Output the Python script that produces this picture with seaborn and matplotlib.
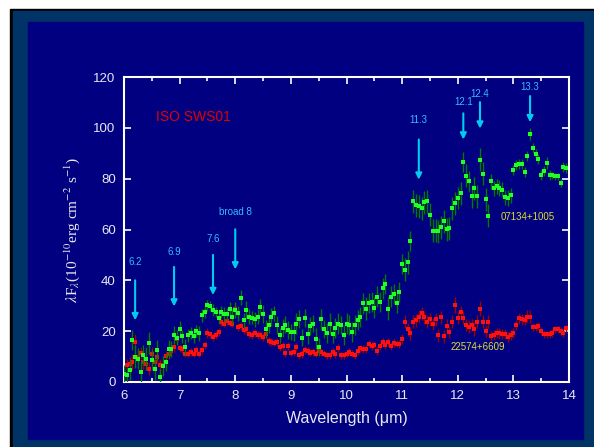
import matplotlib
matplotlib.use("Agg")
import matplotlib.pyplot as plt
import matplotlib.patches as mpatches
import seaborn as sns
import pandas as pd

# ISO SWS01 spectra of two sources
green_wl = [6.00, 6.05, 6.10, 6.15, 6.20, 6.25, 6.30, 6.35, 6.40, 6.45, 6.50, 6.55, 6.60, 6.65, 6.70, 6.75,
            6.80, 6.85, 6.90, 6.95, 7.00, 7.05, 7.10, 7.15, 7.20, 7.25, 7.30, 7.35, 7.40, 7.45, 7.50, 7.55,
            7.60, 7.65, 7.70, 7.75, 7.80, 7.85, 7.90, 7.95, 8.00, 8.05, 8.10, 8.15, 8.20, 8.25, 8.30, 8.35,
            8.40, 8.45, 8.50, 8.55, 8.60, 8.65, 8.70, 8.75, 8.80, 8.85, 8.90, 8.95, 9.00, 9.05, 9.10, 9.15,
            9.20, 9.25, 9.30, 9.35, 9.40, 9.45, 9.50, 9.55, 9.60, 9.65, 9.70, 9.75, 9.80, 9.85, 9.90, 9.95,
            10.00, 10.05, 10.10, 10.15, 10.20, 10.25, 10.30, 10.35, 10.40, 10.45, 10.50, 10.55, 10.60, 10.65,
            10.70, 10.75, 10.80, 10.85, 10.90, 10.95, 11.00, 11.05, 11.10, 11.15, 11.20, 11.25, 11.30, 11.35,
            11.40, 11.45, 11.50, 11.55, 11.60, 11.65, 11.70, 11.75, 11.80, 11.85, 11.90, 11.95, 12.00, 12.05,
            12.10, 12.15, 12.20, 12.25, 12.30, 12.35, 12.40, 12.45, 12.50, 12.55, 12.60, 12.65, 12.70, 12.75,
            12.80, 12.85, 12.90, 12.95, 13.00, 13.05, 13.10, 13.15, 13.20, 13.25, 13.30, 13.35, 13.40, 13.45,
            13.50, 13.55, 13.60, 13.65, 13.70, 13.75, 13.80, 13.85, 13.90, 13.95]
green_flux = [3.0, 2.6, 4.6, 16.4, 9.9, 9.2, 3.9, 10.5, 9.2, 15.5, 8.6, 5.3, 12.5, 2.0, 6.3, 7.9,
              13.0, 13.0, 18.4, 17.4, 20.9, 18.0, 13.8, 18.3, 19.3, 18.2, 20.1, 19.1, 26.3, 27.5, 30.1, 29.9,
              28.3, 27.6, 25.3, 27.5, 26.6, 26.7, 28.8, 25.7, 28.3, 27.0, 33.2, 24.3, 28.3, 25.7, 25.3, 24.6,
              25.7, 29.6, 26.7, 20.7, 22.4, 25.5, 27.0, 22.4, 18.3, 21.3, 22.6, 20.4, 19.7, 19.7, 23.0, 24.7,
              17.5, 25.3, 18.8, 22.1, 23.0, 17.1, 13.8, 24.6, 21.0, 19.3, 23.0, 18.7, 21.3, 23.0, 22.4, 18.4,
              23.0, 22.4, 19.7, 22.4, 24.3, 25.7, 30.9, 28.9, 31.2, 31.6, 29.3, 33.6, 31.6, 36.8,
              38.6, 28.9, 33.6, 34.6, 31.2, 35.5, 46.4, 44.1, 47.1, 55.5, 71.1, 69.6, 69.1, 68.4,
              70.7, 71.1, 65.8, 59.6, 59.6, 59.3, 60.9, 63.2, 60.1, 60.5, 68.4, 70.4, 72.4, 74.3,
              86.6, 81.2, 78.9, 73.0, 76.3, 73.0, 87.5, 82.0, 71.9, 65.4, 78.9, 76.2, 77.0, 76.3,
              75.7, 72.6, 72.4, 73.4, 83.3, 85.4, 85.8, 85.9, 82.6, 88.8, 97.6, 92.1, 89.7, 87.7,
              81.6, 82.9, 86.2, 81.6, 81.3, 80.9, 80.9, 78.3, 84.5, 84.2]
green_err = [3.5, 3.0, 4.0, 4.0, 4.5, 4.0, 4.5, 4.0, 4.5, 4.3, 4.0, 4.5, 4.0, 3.0, 4.0, 3.5,
             3.5, 3.0, 3.5, 3.0, 3.0, 2.5, 3.0, 2.5, 2.5, 3.0, 2.5, 3.0, 2.5, 2.5, 2.0, 2.0,
             2.5, 2.0, 2.5, 2.5, 3.0, 2.5, 2.5, 3.0, 3.0, 3.0, 3.0, 3.0, 3.5, 3.0, 2.5, 3.0,
             3.0, 3.0, 3.5, 3.5, 3.0, 3.5, 3.0, 3.5, 3.0, 3.5, 3.5, 3.5, 3.0, 3.5, 4.0, 3.5,
             3.5, 3.5, 4.0, 3.5, 3.5, 4.0, 3.5, 4.0, 3.5, 4.0, 4.0, 3.5, 4.0, 4.0, 3.5, 4.0,
             4.0, 4.0, 4.0, 4.0, 4.0, 4.0, 4.0, 4.5, 4.0, 4.0, 4.0, 4.0, 4.0, 4.0,
             4.0, 4.5, 4.0, 4.0, 4.0, 4.0, 4.0, 4.5, 4.5, 4.0, 4.5, 4.5, 4.5, 4.5,
             4.5, 4.5, 4.5, 4.5, 4.5, 4.5, 4.5, 4.5, 4.5, 4.5, 4.5, 4.5, 4.5, 4.5,
             4.0, 4.5, 4.0, 4.5, 4.5, 4.5, 4.6, 4.5, 4.5, 4.5, 3.0, 3.0, 3.0, 3.0,
             3.0, 3.0, 3.0, 3.0, 2.0, 2.0, 2.0, 2.0, 2.0, 2.0, 2.3, 2.0, 2.0, 2.0,
             2.0, 2.0, 2.5, 2.0, 1.5, 1.5, 1.5, 1.5, 2.0, 2.0]

red_wl = [6.05, 6.10, 6.15, 6.20, 6.25, 6.30, 6.35, 6.40, 6.45, 6.50, 6.55, 6.60, 6.65, 6.70, 6.75,
          6.80, 6.85, 6.90, 6.95, 7.00, 7.05, 7.10, 7.15, 7.20, 7.25, 7.30, 7.35, 7.40, 7.45, 7.50, 7.55,
          7.60, 7.65, 7.70, 7.75, 7.80, 7.85, 7.90, 7.95, 8.00, 8.05, 8.10, 8.15, 8.20, 8.25, 8.30, 8.35,
          8.40, 8.45, 8.50, 8.55, 8.60, 8.65, 8.70, 8.75, 8.80, 8.85, 8.90, 8.95, 9.00, 9.05, 9.10, 9.15,
          9.20, 9.25, 9.30, 9.35, 9.40, 9.45, 9.50, 9.55, 9.60, 9.65, 9.70, 9.75, 9.80, 9.85, 9.90, 9.95,
          10.00, 10.05, 10.10, 10.15, 10.20, 10.25, 10.30, 10.35, 10.40, 10.45, 10.50, 10.55, 10.60, 10.65,
          10.70, 10.75, 10.80, 10.85, 10.90, 10.95, 11.00, 11.05, 11.10, 11.15, 11.20, 11.25, 11.30, 11.35,
          11.40, 11.45, 11.50, 11.55, 11.60, 11.65, 11.70, 11.75, 11.80, 11.85, 11.90, 11.95, 12.00, 12.05,
          12.10, 12.15, 12.20, 12.25, 12.30, 12.35, 12.40, 12.45, 12.50, 12.55, 12.60, 12.65, 12.70, 12.75,
          12.80, 12.85, 12.90, 12.95, 13.00, 13.05, 13.10, 13.15, 13.20, 13.25, 13.30, 13.35, 13.40, 13.45,
          13.50, 13.55, 13.60, 13.65, 13.70, 13.75, 13.80, 13.85, 13.90, 13.95]
red_flux = [6.6, 7.2, 7.9, 15.8, 9.9, 11.4, 7.9, 7.2, 5.3, 11.2, 7.9, 9.9, 6.5, 6.6, 10.1,
            11.2, 12.1, 13.8, 17.1, 13.2, 13.0, 11.2, 11.2, 11.8, 11.2, 12.5, 11.2, 12.5, 14.5, 19.3, 18.7,
            17.8, 18.4, 19.7, 23.7, 23.0, 23.9, 23.4, 23.0, 28.7, 21.6, 22.0, 20.4, 20.7, 18.8, 18.6, 19.3,
            18.4, 18.4, 17.8, 18.7, 16.1, 15.8, 15.5, 15.8, 13.8, 14.2, 11.4, 14.2, 11.6, 11.8, 13.8, 10.5,
            10.9, 12.5, 12.1, 11.6, 11.8, 11.2, 12.1, 11.7, 11.2, 10.5, 10.5, 11.7, 10.9, 13.4, 10.5, 10.5,
            11.2, 11.8, 11.2, 10.5, 12.1, 13.2, 12.9, 12.9, 15.1, 14.1, 14.7, 12.2, 14.1, 15.8,
            14.5, 15.8, 14.1, 15.4, 15.1, 14.9, 17.0, 23.7, 20.7, 19.1, 23.7, 24.3, 25.7, 27.0,
            25.4, 23.7, 24.6, 22.8, 24.6, 18.3, 25.4, 18.0, 22.1, 19.7, 23.7, 30.3, 25.3, 27.4,
            25.3, 22.4, 21.7, 22.4, 20.7, 23.7, 28.9, 23.7, 20.1, 23.7, 18.0, 18.4, 19.3, 19.1,
            18.8, 18.8, 17.8, 18.4, 19.3, 22.4, 25.0, 24.6, 24.3, 25.7, 25.7, 21.7, 21.7, 22.0,
            20.1, 18.7, 18.7, 18.8, 19.3, 20.7, 20.7, 20.0, 19.3, 21.1]
red_err = [2.5, 2.5, 3.0, 3.0, 2.5, 2.5, 3.0, 2.5, 2.5, 2.5, 3.0, 2.5, 2.5, 2.5, 2.0,
           2.0, 2.0, 2.0, 2.0, 1.5, 1.5, 1.5, 1.5, 1.5, 1.5, 1.5, 1.5, 1.5, 1.5, 2.0, 1.5,
           1.5, 1.5, 1.5, 1.5, 1.5, 1.5, 1.5, 1.5, 2.0, 1.5, 1.5, 1.5, 1.5, 1.5, 1.5, 1.5,
           1.5, 1.5, 1.5, 1.5, 1.5, 1.5, 1.5, 1.5, 1.5, 1.5, 1.5, 1.5, 1.5, 1.5, 1.5, 1.5,
           1.5, 1.5, 1.5, 1.5, 1.5, 1.5, 1.5, 1.5, 1.5, 1.5, 1.5, 1.5, 1.5, 1.5, 1.5, 1.5,
           1.5, 1.5, 1.5, 1.5, 1.5, 1.5, 1.5, 1.5, 1.5, 1.5, 1.5, 1.5, 1.5, 1.5,
           1.5, 1.5, 1.5, 1.5, 1.5, 1.5, 2.0, 2.5, 2.5, 2.5, 2.5, 2.5, 2.5, 2.5,
           2.5, 2.5, 2.5, 2.5, 2.5, 2.5, 2.5, 2.5, 2.5, 2.5, 2.5, 3.0, 2.5, 2.5,
           2.5, 2.5, 2.5, 2.5, 2.5, 2.5, 3.0, 2.5, 2.5, 2.5, 2.0, 2.0, 2.0, 2.0,
           2.0, 2.0, 2.0, 2.0, 2.0, 2.0, 2.0, 2.0, 2.0, 2.5, 2.5, 1.5, 1.5, 1.5,
           1.5, 1.5, 1.5, 1.5, 1.5, 1.5, 1.5, 1.5, 1.5, 1.5]

# feature markers: label, wavelength, label height, arrow start, arrow tip
feat_labels = ['6.2', '6.9', '7.6', 'broad 8', '11.3', '12.1', '12.4', '13.3']
feat_wl = [6.2, 6.9, 7.6, 8.0, 11.3, 12.1, 12.4, 13.3]
feat_text_y = [47.4, 51.3, 56.3, 66.7, 102.9, 110.1, 113.4, 116.1]
feat_from_y = [40.0, 45.3, 50.0, 60.1, 95.4, 105.7, 110.1, 112.5]
feat_to_y = [24.3, 29.7, 34.2, 44.3, 79.6, 95.4, 99.7, 102.2]

NAVY = '#000080'
FRAME = '#003366'

sns.set_style('dark')
plt.rcParams['font.family'] = ['Liberation Sans', 'DejaVu Sans']
plt.rcParams['mathtext.fontset'] = 'stix'

fig = plt.figure(figsize=(5.94, 4.47), dpi=100)
fig.patch.set_facecolor('white')
W, H = 594.0, 447.0
# frame: black edge, slate border, navy panel
fig.patches.append(mpatches.Rectangle((10 / W, 0), 1, 1 - 9 / H, transform=fig.transFigure,
                                      color='black', zorder=-3))
fig.patches.append(mpatches.Rectangle((13 / W, 0), 1, 1 - 11 / H, transform=fig.transFigure,
                                      color=FRAME, zorder=-2))
fig.patches.append(mpatches.Rectangle((28 / W, 8 / H), 555 / W, 417 / H, transform=fig.transFigure,
                                      color=NAVY, zorder=-1))

ax = fig.add_axes([124 / W, 1 - 382 / H, 445 / W, 305 / H])
ax.set_facecolor(NAVY)
ax.grid(False)

green = pd.DataFrame({'wl': green_wl, 'flux': green_flux, 'err': green_err})
red = pd.DataFrame({'wl': red_wl, 'flux': red_flux, 'err': red_err})

ax.errorbar(red['wl'], red['flux'], yerr=red['err'], fmt='none', ecolor='#a00000', elinewidth=1.0,
            capsize=0, zorder=2)
sns.scatterplot(data=red, x='wl', y='flux', marker='s', s=5, color='#ff1010', linewidth=0, ax=ax,
                zorder=3)
ax.errorbar(green['wl'], green['flux'], yerr=green['err'], fmt='none', ecolor='#007a00',
            elinewidth=1.0, capsize=0, zorder=4)
sns.scatterplot(data=green, x='wl', y='flux', marker='s', s=5, color='#22ff22', linewidth=0, ax=ax,
                zorder=5)

for lab, x, ty, y0, y1 in zip(feat_labels, feat_wl, feat_text_y, feat_from_y, feat_to_y):
    ax.annotate('', xy=(x, y1), xytext=(x, y0),
                arrowprops=dict(arrowstyle='-|>', color='#00ccee', lw=1.5, mutation_scale=9,
                                shrinkA=0, shrinkB=0), zorder=6)
    ax.text(x, ty, lab, color='#33bbff', fontsize=7, ha='center', va='center')

ax.text(6.58, 104.3, 'ISO SWS01', color='#e00000', fontsize=10, ha='left', va='center')
ax.text(12.77, 65.1, '07134+1005', color='#dddd33', fontsize=7, ha='left', va='center')
ax.text(11.87, 13.8, '22574+6609', color='#dddd33', fontsize=7, ha='left', va='center')

ax.set_xlim(6, 14)
ax.set_ylim(0, 120)
ax.set_xticks(range(6, 15))
ax.set_xticks([6.5, 7.5, 8.5, 9.5, 10.5, 11.5, 12.5, 13.5], minor=True)
ax.set_yticks(range(0, 121, 20))
for s in ax.spines.values():
    s.set_color('white')
    s.set_linewidth(1.5)
ax.tick_params(which='both', direction='in', colors='white', top=True, right=True,
               bottom=True, left=True, labelcolor='#e8e8f0', labelsize=9.5, width=1.2)
ax.tick_params(which='major', length=5, pad=6)
ax.tick_params(which='minor', length=3)

ax.set_xlabel('Wavelength (μm)', color='#e8e8f0', fontsize=11.5, labelpad=6)
ax.set_ylabel(r'$\lambda$F$_\lambda$(10$^{-10}$erg cm$^{-2}$ s$^{-1}$)', color='#e8e8f0',
              fontsize=11, family=['Liberation Serif', 'DejaVu Serif'], labelpad=8)

fig.savefig('out.png', dpi=100, facecolor=fig.get_facecolor())
